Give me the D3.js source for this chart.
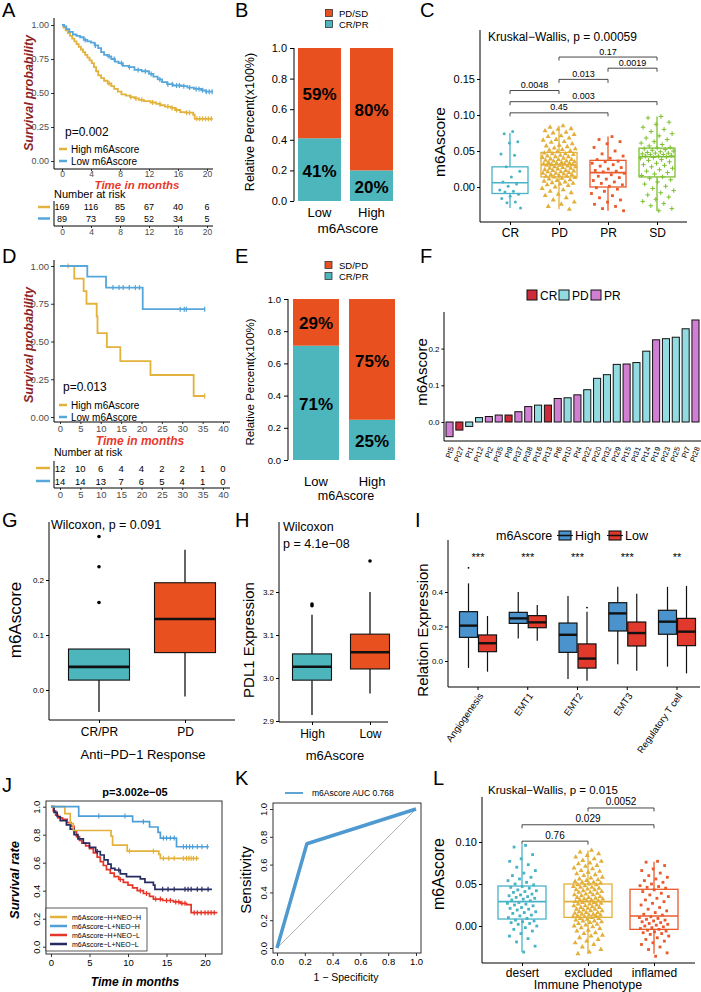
<!DOCTYPE html>
<html><head><meta charset="utf-8">
<script src="https://cdn.jsdelivr.net/npm/d3@7"></script>
<style>body{margin:0;background:#fff}svg{display:block}</style>
</head><body><svg id="c" width="701" height="992"></svg>
<script>
// ================= DATA =================
// Panel A (KM, all patients)
const aHigh = [[0,1],[0.2,0.98],[0.5,0.96],[0.8,0.94],[1.1,0.92],[1.4,0.9],[1.7,0.88],[2.0,0.86],[2.3,0.84],[2.6,0.82],[2.9,0.8],[3.2,0.78],[3.5,0.76],[3.8,0.74],[4.1,0.72],[4.4,0.69],[4.7,0.66],[5.0,0.63],[5.4,0.61],[5.8,0.59],[6.3,0.57],[6.8,0.55],[7.2,0.53],[7.7,0.51],[8.2,0.49],[8.8,0.48],[9.4,0.47],[10,0.46],[10.6,0.45],[11.3,0.44],[12.2,0.43],[13.0,0.42],[13.6,0.41],[14.2,0.4],[15,0.39],[15.6,0.375],[16.3,0.36],[17.0,0.355],[18.1,0.34],[18.3,0.31]];
const aLow = [[0,1],[0.3,0.99],[0.6,0.97],[1.0,0.95],[1.5,0.93],[2.0,0.92],[2.5,0.91],[3.0,0.89],[3.5,0.88],[4.0,0.87],[4.5,0.85],[5.0,0.83],[5.4,0.8],[5.8,0.78],[6.3,0.77],[6.8,0.75],[7.3,0.73],[7.8,0.72],[8.4,0.7],[9.2,0.69],[10,0.67],[11,0.66],[12,0.64],[12.6,0.62],[13.2,0.6],[13.8,0.58],[14.5,0.565],[15.3,0.555],[16.5,0.55],[17.3,0.54],[18.2,0.53],[19.2,0.52],[19.8,0.51]];
const aHighCens = [6.5,9.5,10.2,11,12.5,13.5,14.6,15.2,15.8,17.2,17.6,18.6,19.0,19.4,19.8,20.2,20.6];
const aLowCens = [3.2,4.6,6.5,7.2,8.2,9.3,10.5,11.5,12.3,13.5,14.6,15.2,15.8,16.2,16.8,17.6,18.5,18.9,19.4,19.9,20.3,20.7];
const aRiskTimes = [0,4,8,12,16,20];
const aRiskHigh = [169,116,85,67,40,6];
const aRiskLow = [89,73,59,52,34,5];
// Panel D (KM, anti-PD-1 cohort)
const dHigh = [[0,1],[3.5,0.917],[5.8,0.833],[6.5,0.75],[9.0,0.667],[9.2,0.556],[11.5,0.463],[14.8,0.37],[22.2,0.278],[32.8,0.139]];
const dLow = [[0,1],[6.7,0.929],[11.3,0.857],[20.3,0.714]];
const dHighCens = [2.0,35.5];
const dLowCens = [13.0,14.5,15.5,17.0,18.5,19.5,29.5,30.5,31.0,35.5];
const dRiskTimes = [0,5,10,15,20,25,30,35,40];
const dRiskHigh = [12,10,6,4,4,2,2,1,0];
const dRiskLow = [14,14,13,7,6,5,4,1,0];
// Panel B / E (stacked response proportions)
const bGroups = ['Low','High'];
const bCRPR = [0.41,0.20];
const bPDSD = [0.59,0.80];
const eCRPR = [0.71,0.25];
const eSDPD = [0.29,0.75];
// Panel C (m6Ascore by response)
const cCats = ['CR','PD','PR','SD'];
const cLo = [-0.029,-0.031,-0.033,-0.033];
const cQ1 = [-0.009,0.014,0.000,0.014];
const cMed = [0.006,0.031,0.020,0.042];
const cQ3 = [0.028,0.048,0.037,0.054];
const cHi = [0.075,0.085,0.070,0.098];
const cPtsCR = [0.077,0.074,0.063,0.061,0.046,0.044,0.028,0.022,0.014,0.007,0.004,0.001,-0.004,-0.006,-0.007,-0.010,-0.013,-0.016,-0.021,-0.022,-0.029];
const cPtsPD = [0.085,0.083,0.081,0.080,0.078,0.076,0.075,0.073,0.071,0.070,0.068,0.066,0.065,0.063,0.062,0.060,0.058,0.057,0.056,0.054,0.053,0.052,0.051,0.050,0.049,
 0.047,0.046,0.046,0.045,0.044,0.043,0.042,0.042,0.041,0.040,0.039,0.038,0.038,0.037,0.036,0.036,0.035,0.034,0.034,0.033,0.033,0.032,0.032,0.031,0.031,
 0.030,0.030,0.029,0.028,0.028,0.027,0.026,0.026,0.025,0.024,0.023,0.023,0.022,0.021,0.021,0.020,0.019,0.019,0.018,0.017,0.017,0.016,0.015,0.015,0.014,
 0.013,0.012,0.011,0.010,0.009,0.008,0.007,0.006,0.005,0.004,0.003,0.002,0.000,-0.002,-0.004,-0.006,-0.008,-0.010,-0.012,-0.015,-0.018,-0.021,-0.024,-0.027,-0.031];
const cPtsPR = [0.070,0.066,0.063,0.060,0.055,0.050,0.046,0.043,0.040,0.038,0.036,0.035,0.033,0.031,0.029,0.027,0.025,0.023,0.022,0.021,0.019,0.017,0.015,0.013,0.011,0.009,0.007,0.005,0.003,0.001,-0.001,-0.003,-0.006,-0.009,-0.012,-0.015,-0.018,-0.021,-0.024,-0.027,-0.030,-0.033];
const cPtsSD = [0.098,0.096,0.090,0.087,0.083,0.080,0.077,0.074,0.071,0.068,0.066,0.063,0.061,0.059,0.057,0.055,
 0.054,0.053,0.052,0.051,0.050,0.049,0.048,0.047,0.047,0.046,0.045,0.045,0.044,0.043,0.043,0.042,
 0.041,0.040,0.038,0.037,0.035,0.033,0.031,0.030,0.028,0.026,0.024,0.022,0.020,0.018,0.016,0.014,
 0.012,0.010,0.007,0.004,0.001,-0.002,-0.005,-0.008,-0.011,-0.014,-0.017,-0.020,-0.023,-0.026,-0.030,-0.033];
const cComps = [['PD','SD','0.17'],['PR','SD','0.0019'],['PD','PR','0.013'],['CR','PD','0.0048'],['CR','SD','0.003'],['CR','PR','0.45']];
// Panel F (per-patient m6Ascore)
const fPatients = ['Pt5','Pt27','Pt1','Pt12','Pt2','Pt35','Pt9','Pt37','Pt38','Pt16','Pt13','Pt6','Pt10','Pt4','Pt22','Pt20','Pt32','Pt29','Pt15','Pt31','Pt14','Pt19','Pt23','Pt25','Pt7','Pt28'];
const fResp = ['PR','CR','PD','PD','PR','PR','CR','PR','PR','PD','CR','PR','PD','PR','PD','PD','PD','PD','PR','PD','PD','PR','PD','PD','PD','PR'];
const fScore = [-0.040,-0.022,-0.012,0.012,0.015,0.019,0.019,0.028,0.042,0.046,0.046,0.064,0.066,0.074,0.088,0.119,0.129,0.157,0.158,0.162,0.193,0.224,0.227,0.231,0.254,0.278];
// Panel G
const gCats = ['CR/PR','PD'];
const gStats = [[-0.040,0.018,0.042,0.0745,0.0745],[-0.012,0.068,0.129,0.195,0.255]];
const gOutliers = [[0.159,0.224,0.279],[]];
// Panel H
const hCats = ['High','Low'];
const hStats = [[2.914,2.995,3.026,3.056,3.147],[2.964,3.021,3.060,3.102,3.200]];
const hOutliers = [[3.168,3.172],[3.272]];
// Panel I
const iGroups = ['Angiogenesis','EMT1','EMT2','EMT3','Regulatory T cell'];
const iHighStats = [[-0.040,0.137,0.205,0.286,0.45],[0.131,0.218,0.247,0.282,0.40],[-0.104,0.050,0.152,0.220,0.377],[-0.019,0.174,0.276,0.338,0.43],[-0.033,0.155,0.228,0.294,0.43]];
const iLowStats = [[-0.062,0.054,0.103,0.151,0.261],[0.118,0.193,0.224,0.263,0.325],[-0.114,-0.041,0.014,0.099,0.286],[-0.056,0.087,0.162,0.226,0.39],[-0.072,0.089,0.170,0.247,0.435]];
const iHighOut = [[0.54],[],[],[],[]];
const iLowOut = [[],[],[0.31],[],[]];
const iStars = ['***','***','***','***','**'];
// Panel J
const jLegend = ['m6Ascore\u2212H+NEO\u2212H','m6Ascore\u2212L+NEO\u2212H','m6Ascore\u2212H+NEO\u2212L','m6Ascore\u2212L+NEO\u2212L'];
const jHH = [[0,1],[1.8,0.95],[2.5,0.88],[2.9,0.83],[7.8,0.79],[8.0,0.726],[9.9,0.683],[14.0,0.66],[14.2,0.631]];
const jLH = [[0,1],[3.6,0.933],[10.6,0.893],[12.8,0.855],[13.9,0.817],[14.2,0.776],[16.3,0.714]];
const jHL = [[0,1],[0.3,0.97],[0.6,0.94],[0.9,0.92],[1.5,0.91],[2.1,0.886],[2.6,0.86],[3.0,0.82],[3.3,0.786],[3.7,0.76],[4.0,0.74],[4.5,0.72],[5.0,0.7],[5.5,0.67],[6.0,0.64],[6.4,0.607],[6.8,0.58],[7.2,0.55],[7.7,0.526],[8.2,0.5],[8.8,0.48],[9.4,0.46],[10.0,0.44],[10.6,0.42],[11.2,0.4],[12.0,0.38],[12.8,0.36],[13.3,0.34],[14.5,0.33],[15.9,0.32],[16.8,0.31],[17.6,0.3],[18.2,0.243]];
const jLL = [[0,1],[0.4,0.96],[0.8,0.93],[1.2,0.9],[2.0,0.87],[2.5,0.84],[3.0,0.8],[3.5,0.77],[4.2,0.74],[5.0,0.71],[5.8,0.68],[6.4,0.655],[6.9,0.62],[7.4,0.59],[7.8,0.56],[8.3,0.548],[9.0,0.52],[9.8,0.5],[11.6,0.485],[12.2,0.46],[13.3,0.44],[13.5,0.41]];
const jEnds = [19.2,20.5,21.6,20.9];
const jHHCens = [10.2,13.3,14.6,15.3,16.0,17.2,17.6,17.9,18.2,18.5,18.9];
const jLHCens = [6.2,9.6,12.0,14.6,15.0,15.5,16.0,17.2,17.6,18.0,18.4,19.0,19.6,20.3];
const jHLCens = [9.0,11.6,12.4,13.6,14.2,15.0,15.5,16.2,16.6,17.0,17.4,18.6,19.0,19.5,20.0,20.4,20.8,21.2];
const jLLCens = [6.0,8.8,14.5,15.2,16.0,17.4,17.8,18.2,19.0,19.6,20.4];
// Panel K (ROC)
const kFPR = [0,0.215,1];
const kTPR = [0,0.75,1];
// Panel L
const lCats = ['desert','excluded','inflamed'];
const lStats = [[-0.031,0.0083,0.029,0.0476,0.096],[-0.033,0.0103,0.029,0.050,0.090],[-0.033,-0.004,0.0119,0.0437,0.0765]];
const lPtsDesert = [0.096,0.094,0.085,0.080,0.077,0.073,0.070,0.066,0.063,0.060,0.058,0.056,0.054,0.052,0.050,0.049,
 0.047,0.046,0.045,0.043,0.042,0.041,0.040,0.038,0.037,0.036,0.035,0.034,0.033,0.032,0.031,0.030,
 0.028,0.027,0.026,0.025,0.024,0.022,0.021,0.020,0.019,0.017,0.016,0.015,0.013,0.012,0.010,0.009,
 0.007,0.006,0.005,0.004,0.003,0.002,0.000,-0.002,-0.004,-0.006,-0.009,-0.012,-0.015,-0.019,-0.024,-0.031];
const lPtsExcluded = [0.090,0.088,0.086,0.084,0.082,0.080,0.078,0.077,0.075,0.074,0.072,0.071,0.069,0.068,0.066,0.065,0.064,0.062,0.061,0.060,0.058,0.057,0.056,0.055,0.054,0.053,0.052,0.052,0.051,0.050,
 0.049,0.049,0.048,0.047,0.046,0.046,0.045,0.044,0.043,0.043,0.042,0.041,0.040,0.040,0.039,0.038,0.037,0.037,0.036,0.035,0.034,0.034,0.033,0.032,0.032,0.031,0.031,0.030,0.030,0.029,
 0.028,0.028,0.027,0.026,0.026,0.025,0.024,0.024,0.023,0.022,0.022,0.021,0.020,0.020,0.019,0.018,0.018,0.017,0.016,0.016,0.015,0.014,0.014,0.013,0.013,0.012,0.012,0.011,0.011,0.010,
 0.009,0.009,0.008,0.007,0.006,0.006,0.005,0.004,0.003,0.002,0.001,0.000,-0.001,-0.002,-0.003,-0.005,-0.006,-0.008,-0.009,-0.011,-0.012,-0.014,-0.016,-0.018,-0.020,-0.022,-0.025,-0.028,-0.031,-0.033];
const lPtsInflamed = [0.077,0.076,0.072,0.068,0.066,0.063,0.060,0.058,0.056,0.054,0.052,0.050,0.048,0.047,0.046,0.045,
 0.043,0.041,0.039,0.037,0.035,0.033,0.031,0.029,0.027,0.025,0.022,0.020,0.018,0.016,0.014,0.013,
 0.011,0.010,0.009,0.008,0.007,0.006,0.005,0.004,0.003,0.002,0.001,0.000,-0.001,-0.002,-0.003,-0.004,
 -0.005,-0.006,-0.007,-0.008,-0.009,-0.010,-0.012,-0.014,-0.016,-0.018,-0.020,-0.022,-0.025,-0.028,-0.032,-0.036];
const lComps = [['excluded','inflamed','0.0052'],['desert','inflamed','0.029'],['desert','excluded','0.76']];

// ================= STYLE =================
const F = "'Liberation Sans', Arial, Helvetica, sans-serif";
const GOLD = '#E3B23C', SKY = '#56A7DA', TEAL = '#4DB5BC', ORANGE = '#E8501F';
const C_TEAL = '#49B3C6', C_GOLD = '#E2B03A', C_RED = '#EA5A2C', C_GREEN = '#7DC02F';
const F_COL = {CR:'#CC2B3B', PD:'#92DCE1', PR:'#D07FD3'};
const I_HIGH = '#4A93CC', I_LOW = '#E13A2C';
const J_COL = ['#E3B23C','#4E9FD8','#E53428','#262B62'];

const svg = d3.select('#c');
svg.append('rect').attr('width',701).attr('height',992).attr('fill','#fff');

function T(x, y, s, o = {}) {
  const t = svg.append('text').attr('x', x).attr('y', y).text(s)
    .attr('font-family', F).attr('font-size', o.size || 11)
    .attr('fill', o.fill || '#000').attr('text-anchor', o.anchor || 'start');
  if (o.weight) t.attr('font-weight', o.weight);
  if (o.style) t.attr('font-style', o.style);
  if (o.dy) t.attr('dy', o.dy);
  if (o.rot !== undefined) t.attr('transform', `rotate(${o.rot},${x},${y})`);
  return t;
}
function L(x1, y1, x2, y2, c = '#000', w = 1) {
  return svg.append('line').attr('x1', x1).attr('y1', y1).attr('x2', x2).attr('y2', y2).attr('stroke', c).attr('stroke-width', w);
}
function R(x, y, w, h, fill, stroke, sw = 1) {
  return svg.append('rect').attr('x', x).attr('y', y).attr('width', w).attr('height', h)
    .attr('fill', fill).attr('stroke', stroke || 'none').attr('stroke-width', sw);
}
function axL(scale, x, ticks, fmt, fs, o = {}) {
  const g = svg.append('g').attr('transform', `translate(${x},0)`)
    .call(d3.axisLeft(scale).tickValues(ticks).tickFormat(fmt).tickSize(o.ts ?? 3).tickPadding(o.pad ?? 2));
  g.select('.domain').remove();
  g.attr('font-family', F).attr('font-size', fs);
  g.selectAll('.tick line').attr('stroke', o.tc || '#000');
  g.selectAll('.tick text').attr('fill', o.color || '#000');
  if (o.line) L(x, o.line[0], x, o.line[1], o.lc || '#000', o.lw || 1);
  if (o.rot) {
    g.selectAll('.tick text').attr('transform', 'rotate(-90)').attr('x', 0)
      .attr('y', -((o.ts ?? 3) + (o.pad ?? 2))).attr('dy', 0).attr('text-anchor', 'middle');
  }
  return g;
}
function axB(scale, y, ticks, fmt, fs, o = {}) {
  const ax = d3.axisBottom(scale).tickSize(o.ts ?? 3).tickPadding(o.pad ?? 2);
  if (ticks) ax.tickValues(ticks);
  if (fmt) ax.tickFormat(fmt);
  const g = svg.append('g').attr('transform', `translate(0,${y})`).call(ax);
  g.select('.domain').remove();
  g.attr('font-family', F).attr('font-size', fs);
  g.selectAll('.tick line').attr('stroke', o.tc || '#000');
  g.selectAll('.tick text').attr('fill', o.color || '#000');
  if (o.line) L(o.line[0], y, o.line[1], y, o.lc || '#000', o.lw || 1);
  return g;
}
function km(xs, ys, pts, end, color, w, cens, ch = 2.5) {
  const data = pts.concat([[end, pts[pts.length - 1][1]]]);
  svg.append('path').datum(data)
    .attr('d', d3.line().x(d => xs(d[0])).y(d => ys(d[1])).curve(d3.curveStepAfter))
    .attr('fill', 'none').attr('stroke', color).attr('stroke-width', w);
  const S = t => { let s = 1; for (const p of pts) if (p[0] <= t) s = p[1]; return s; };
  (cens || []).forEach(t => { const X = xs(t), Y = ys(S(t)); L(X, Y - ch, X, Y + ch, color, Math.max(0.8, w * 0.7)); });
}
function box(cx, w, st, ys, o) {
  const [lo, q1, med, q3, hi] = st;
  const sc = o.stroke, sw = o.sw || 1;
  L(cx, ys(hi), cx, ys(q3), o.wc || sc, o.ww || sw);
  L(cx, ys(q1), cx, ys(lo), o.wc || sc, o.ww || sw);
  R(cx - w / 2, ys(q3), w, ys(q1) - ys(q3), o.fill || 'none', sc, sw);
  L(cx - w / 2, ys(med), cx + w / 2, ys(med), o.mc || sc, o.mw || sw * 2);
}
const jit = (i, J) => ((((i + 1) * 0.6180339887) % 1) - 0.5) * 2 * J;
function pts(vals, cx, ys, shape, color, J) {
  vals.forEach((v, i) => {
    const X = cx + jit(i, J), Y = ys(v);
    if (shape === 'circle') svg.append('circle').attr('cx', X).attr('cy', Y).attr('r', 1.5).attr('fill', color);
    else if (shape === 'plus') { L(X - 2.3, Y, X + 2.3, Y, color, 1); L(X, Y - 2.3, X, Y + 2.3, color, 1); }
    else {
      const sym = shape === 'tri' ? d3.symbolTriangle : d3.symbolSquare;
      svg.append('path').attr('d', d3.symbol().type(sym).size(shape === 'tri' ? 11 : 8)())
        .attr('transform', `translate(${X},${Y})`).attr('fill', color);
    }
  });
}
function bracket(x1, x2, y, label, fs) {
  svg.append('path').attr('d', `M${x1},${y + 3.5}V${y}H${x2}V${y + 3.5}`).attr('fill', 'none').attr('stroke', '#333').attr('stroke-width', 0.9);
  T((x1 + x2) / 2, y - 2.5, label, {size: fs, anchor: 'middle'});
}

// Panel letters
[['A',2,17],['B',235,17],['C',420,17],['D',2,263],['E',235,263],['F',420,263],['G',2,527],['H',235,527],['I',415,527],['J',2,792],['K',235,785],['L',433,785]]
  .forEach(([s,x,y]) => T(x, y, s, {size: 20}));

// ================= PANEL A =================
{
  const xs = d3.scaleLinear().domain([0,20]).range([62,207]);
  const ys = d3.scaleLinear().domain([0,1]).range([161,25]);
  axL(ys, 54, [0,.25,.5,.75,1], d3.format('.2f'), 9, {color:'#4d4d4d', tc:'#333', line:[18,169]});
  axB(xs, 169, [0,4,8,12,16,20], d3.format('d'), 8.5, {color:'#4d4d4d', tc:'#333', ts:2, pad:0, line:[54,213]});
  km(xs, ys, aHigh, 20.8, GOLD, 1.8, aHighCens);
  km(xs, ys, aLow, 20.8, SKY, 1.8, aLowCens);
  T(29, 93, 'Survival probability', {size:12.5, weight:'bold', style:'italic', fill:'#8B2525', anchor:'middle', rot:-90, dy:'0.35em'});
  T(137, 188.5, 'Time in months', {size:11.5, weight:'bold', style:'italic', fill:'#E8392B', anchor:'middle'});
  T(65, 136, 'p=0.002', {size:12});
  L(59,149,67,149,GOLD,2.5); T(71,152.5,'High m6Ascore',{size:10});
  L(59,161,67,161,SKY,2.5); T(71,164.5,'Low m6Ascore',{size:10});
  T(54, 198, 'Number at risk', {size:11});
  aRiskTimes.forEach((t,i) => { T(xs(t), 210, aRiskHigh[i], {size:9, anchor:'middle'}); T(xs(t), 222, aRiskLow[i], {size:9, anchor:'middle'}); });
  L(38,207,50,207,GOLD,2.5); L(38,218.5,50,218.5,SKY,2.5);
  L(54,201,54,226);
  axB(xs, 226, aRiskTimes, d3.format('d'), 8.5, {color:'#4d4d4d', tc:'#333', ts:2, pad:1, line:[54,213]});
}

// ================= PANEL D =================
{
  const xs = d3.scaleLinear().domain([0,40]).range([60,223]);
  const ys = d3.scaleLinear().domain([0,1]).range([417,266]);
  axL(ys, 54, [0,.25,.5,.75,1], d3.format('.2f'), 9.5, {color:'#4d4d4d', tc:'#333', line:[260,422]});
  axB(xs, 422, dRiskTimes, d3.format('d'), 9.5, {color:'#4d4d4d', tc:'#333', ts:2, pad:1, line:[54,230]});
  km(xs, ys, dHigh, 35.5, GOLD, 1.8, dHighCens);
  km(xs, ys, dLow, 35.5, SKY, 1.8, dLowCens);
  T(29, 345, 'Survival probability', {size:12.5, weight:'bold', style:'italic', fill:'#8B2525', anchor:'middle', rot:-90, dy:'0.35em'});
  T(140, 445, 'Time in months', {size:12, weight:'bold', style:'italic', fill:'#E8392B', anchor:'middle'});
  T(63, 391, 'p=0.013', {size:12});
  L(59,405,67,405,GOLD,2.5); T(71,408.5,'High m6Ascore',{size:10});
  L(59,417,67,417,SKY,2.5); T(71,420.5,'Low m6Ascore',{size:10});
  T(54, 456, 'Number at risk', {size:10.5});
  dRiskTimes.forEach((t,i) => { T(xs(t), 471.5, dRiskHigh[i], {size:9.5, anchor:'middle'}); T(xs(t), 484.5, dRiskLow[i], {size:9.5, anchor:'middle'}); });
  L(36,468,50,468,GOLD,2.5); L(36,481,50,481,SKY,2.5);
  L(54,461,54,488);
  axB(xs, 488, dRiskTimes, d3.format('d'), 9.5, {color:'#4d4d4d', tc:'#333', ts:2, pad:1, line:[54,230]});
}

// ================= PANEL B =================
{
  const ys = d3.scaleLinear().domain([0,1]).range([201,48]);
  const xs = d3.scaleBand().domain(bGroups).range([298,393]).paddingInner(0.173);
  axL(ys, 294, [0,.2,.4,.6,.8,1], d3.format('.1f'), 11, {ts:4, pad:3, line:[48,201]});
  bGroups.forEach((g,i) => {
    const x0 = xs(g), w = xs.bandwidth(), cx = x0 + w/2;
    R(x0, ys(bCRPR[i]), w, ys(0) - ys(bCRPR[i]), TEAL);
    R(x0, ys(1), w, ys(bCRPR[i]) - ys(1), ORANGE);
    T(cx, ys(bCRPR[i]/2), Math.round(bCRPR[i]*100)+'%', {size:17, weight:'bold', anchor:'middle', dy:'0.42em'});
    T(cx, ys(bCRPR[i] + bPDSD[i]/2), Math.round(bPDSD[i]*100)+'%', {size:17, weight:'bold', anchor:'middle', dy:'0.42em'});
    T(cx, 217, g, {size:13, anchor:'middle'});
  });
  T(348, 233, 'm6Ascore', {size:13.5, anchor:'middle'});
  T(250, 122, 'Relative Percent(x100%)', {size:12.5, anchor:'middle', rot:-90, dy:'0.35em'});
  R(325.5, 9.5, 7, 7, ORANGE, '#333', 0.8); T(339, 16.5, 'PD/SD', {size:9.5});
  R(325.5, 20.5, 7, 7, TEAL, '#333', 0.8); T(339, 27.5, 'CR/PR', {size:9.5});
}

// ================= PANEL E =================
{
  const ys = d3.scaleLinear().domain([0,1]).range([460,299]);
  const xs = d3.scaleBand().domain(bGroups).range([293,395]).paddingInner(0.179);
  axL(ys, 288, [0,.2,.4,.6,.8,1], d3.format('.1f'), 9.5, {ts:4, pad:3, line:[299,460]});
  bGroups.forEach((g,i) => {
    const x0 = xs(g), w = xs.bandwidth(), cx = x0 + w/2;
    R(x0, ys(eCRPR[i]), w, ys(0) - ys(eCRPR[i]), TEAL);
    R(x0, ys(1), w, ys(eCRPR[i]) - ys(1), ORANGE);
    T(cx, ys(eCRPR[i]/2), Math.round(eCRPR[i]*100)+'%', {size:17, weight:'bold', anchor:'middle', dy:'0.42em'});
    T(cx, ys(eCRPR[i] + eSDPD[i]/2), Math.round(eSDPD[i]*100)+'%', {size:17, weight:'bold', anchor:'middle', dy:'0.42em'});
    T(cx, 486, g, {size:13, anchor:'middle'});
  });
  T(346, 500, 'm6Ascore', {size:12.5, anchor:'middle'});
  T(250, 382, 'Relative Percent(x100%)', {size:11.5, anchor:'middle', rot:-90, dy:'0.35em'});
  R(325, 261.5, 7, 7, ORANGE, '#333', 0.8); T(339, 268.5, 'SD/PD', {size:9.5});
  R(325, 272.5, 7, 7, TEAL, '#333', 0.8); T(339, 279.5, 'CR/PR', {size:9.5});
}

// ================= PANEL C =================
{
  const xs = d3.scalePoint().domain(cCats).range([510,657]);
  const ys = d3.scaleLinear().domain([0,0.05]).range([187,151]);
  axL(ys, 480, [0,0.05,0.10,0.15], d3.format('.2f'), 11, {ts:3, pad:2, line:[30,222]});
  axB(xs, 222, null, null, 12, {ts:3, pad:3, line:[480,687]});
  const cols = [C_TEAL, C_GOLD, C_RED, C_GREEN];
  const shapes = ['circle','tri','sq','plus'];
  const pl = [cPtsCR, cPtsPD, cPtsPR, cPtsSD];
  cCats.forEach((c,i) => {
    box(xs(c), 36, [cLo[i],cQ1[i],cMed[i],cQ3[i],cHi[i]], ys, {stroke:cols[i], sw:1.3, mw:1.6, fill:'#fff'});
    pts(pl[i], xs(c), ys, shapes[i], cols[i], i === 0 ? 11 : 17);
  });
  T(440, 142, 'm6Ascore', {size:15.5, anchor:'middle', rot:-90, dy:'0.35em'});
  T(488, 41, 'Kruskal\u2212Wallis, p = 0.00059', {size:12});
  cComps.forEach((cmp, k) => {
    const yv = 0.103 + (cComps.length - 1 - k) * 0.0155;
    bracket(xs(cmp[0]), xs(cmp[1]), ys(yv), cmp[2], 9);
  });
}

// ================= PANEL F =================
{
  const xs = d3.scaleBand().domain(fPatients).range([445,700]).paddingInner(0.28).paddingOuter(0.1);
  const ys = d3.scaleLinear().domain([0,0.1]).range([422,385.3]);
  axL(ys, 444, [0,0.1,0.2], d3.format('.1f'), 8, {ts:2.5, pad:2, line:[312,441]});
  L(444, 441, 701, 441);
  fPatients.forEach((p,i) => {
    const v = fScore[i], y0 = ys(0), y1 = ys(v);
    R(xs(p), Math.min(y0,y1), xs.bandwidth(), Math.abs(y1 - y0), F_COL[fResp[i]], '#111', 1);
    const cx = xs(p) + xs.bandwidth()/2 + 2;
    T(cx, 447, p, {size:7.5, anchor:'end', rot:-70, dy:'0.35em'});
  });
  T(422, 372, 'm6Ascore', {size:15, anchor:'middle', rot:-90, dy:'0.35em'});
  [['CR',527],['PD',559],['PR',591]].forEach(([k,x]) => { R(x, 290, 10, 10, F_COL[k], '#111', 1); T(x+13, 299.5, k, {size:12}); });
}

// ================= PANEL G =================
{
  const xs = d3.scalePoint().domain(gCats).range([99,185]);
  const ys = d3.scaleLinear().domain([0,0.1]).range([690,635]);
  axL(ys, 49, [0,0.1,0.2], d3.format('.1f'), 8, {ts:3, pad:2, line:[522,720]});
  axB(xs, 720, null, null, 12, {ts:3, pad:4, line:[49,235]});
  const cols = [TEAL, ORANGE];
  gCats.forEach((c,i) => {
    box(xs(c), 61, gStats[i], ys, {stroke:'#111', sw:1.1, mw:2.6, fill:cols[i], wc:'#111', ww:1.3});
    gOutliers[i].forEach(v => svg.append('circle').attr('cx', xs(c)).attr('cy', ys(v)).attr('r', 1.8).attr('fill','#000'));
  });
  T(51, 529, 'Wilcoxon, p = 0.091', {size:12.5});
  T(15, 620, 'm6Ascore', {size:17, anchor:'middle', rot:-90, dy:'0.35em'});
  T(143, 759, 'Anti\u2212PD\u22121 Response', {size:13, anchor:'middle'});
}

// ================= PANEL H =================
{
  const xs = d3.scalePoint().domain(hCats).range([312,370]);
  const ys = d3.scaleLinear().domain([3.0,3.1]).range([678,635]);
  axL(ys, 279, [2.9,3.0,3.1,3.2], d3.format('.1f'), 8, {ts:3, pad:2, line:[522,722]});
  axB(xs, 722, null, null, 12, {ts:3, pad:4, line:[279,388]});
  const cols = [TEAL, ORANGE];
  hCats.forEach((c,i) => {
    box(xs(c), 39, hStats[i], ys, {stroke:'#111', sw:1.1, mw:2.6, fill:cols[i], wc:'#111', ww:1.3});
    hOutliers[i].forEach(v => svg.append('circle').attr('cx', xs(c)).attr('cy', ys(v)).attr('r', 1.8).attr('fill','#000'));
  });
  T(283, 531, 'Wilcoxon', {size:12.5});
  T(283, 548, 'p = 4.1e\u221208', {size:12.5});
  T(249, 640, 'PDL1 Expression', {size:15, anchor:'middle', rot:-90, dy:'0.35em'});
  T(335, 760, 'm6Ascore', {size:13, anchor:'middle'});
}

// ================= PANEL I =================
{
  const xs = d3.scalePoint().domain(iGroups).range([478,677]);
  const ys = d3.scaleLinear().domain([0,0.2]).range([661,626.5]);
  axL(ys, 448, [0,0.2,0.4], d3.format('.1f'), 8, {ts:3, pad:2, line:[540,687]});
  L(448, 687, 700, 687);
  iGroups.forEach((g,i) => {
    const cx = xs(g);
    box(cx - 9.5, 18, iHighStats[i], ys, {stroke:'#111', sw:1.2, mw:2.4, fill:I_HIGH, wc:'#111', ww:1.2});
    box(cx + 9.5, 18, iLowStats[i], ys, {stroke:'#111', sw:1.2, mw:2.4, fill:I_LOW, wc:'#111', ww:1.2});
    iHighOut[i].forEach(v => svg.append('circle').attr('cx', cx - 9.5).attr('cy', ys(v)).attr('r', 0.9).attr('fill','#000'));
    iLowOut[i].forEach(v => svg.append('circle').attr('cx', cx + 9.5).attr('cy', ys(v)).attr('r', 0.9).attr('fill','#000'));
    L(cx, 687, cx, 690);
    T(cx + 3, 694, g, {size:9.5, anchor:'end', rot:-55, dy:'0.35em'});
    T(cx, 561, iStars[i], {size:11, anchor:'middle'});
  });
  T(423, 630, 'Relation Expression', {size:15, anchor:'middle', rot:-90, dy:'0.35em'});
  T(496, 539.5, 'm6Ascore', {size:12.5});
  [[I_HIGH,'High',559],[I_LOW,'Low',609]].forEach(([c,s,x]) => {
    L(x-2, 535.5, x+14, 535.5, '#111', 1);
    R(x, 531, 12, 9, c, '#111', 1.1);
    L(x, 535.5, x+12, 535.5, '#111', 1.6);
    T(x+16, 539.5, s, {size:12.5});
  });
}

// ================= PANEL J =================
{
  const xs = d3.scaleLinear().domain([0,20]).range([51,205]);
  const ys = d3.scaleLinear().domain([0,1]).range([946.7,806.7]);
  R(46, 801, 176, 153, 'none', '#333', 1);
  axL(ys, 46, [0,0.2,0.4,0.6,0.8,1.0], d3.format('.1f'), 9.5, {ts:3, pad:3, rot:true, tc:'#333'});
  axB(xs, 954, [0,5,10,15,20], d3.format('d'), 9.5, {ts:3, pad:2, tc:'#333'});
  km(xs, ys, jHL, jEnds[2], J_COL[2], 1.7, jHLCens, 2.5);
  km(xs, ys, jLL, jEnds[3], J_COL[3], 1.7, jLLCens, 2.5);
  km(xs, ys, jHH, jEnds[0], J_COL[0], 1.7, jHHCens, 2.5);
  km(xs, ys, jLH, jEnds[1], J_COL[1], 1.7, jLHCens, 2.5);
  R(46, 908, 101, 43, '#fff', '#333', 0.8);
  jLegend.forEach((s,i) => { const y = 917 + i*9; L(50, y, 67, y, J_COL[i], 2.5); T(72, y + 2.5, s, {size:7}); });
  T(135, 796, 'p=3.002e\u221205', {size:11, weight:'bold', anchor:'middle'});
  T(14, 880, 'Survival rate', {size:13, weight:'bold', style:'italic', anchor:'middle', rot:-90, dy:'0.35em'});
  T(135, 986, 'Time in months', {size:12, weight:'bold', style:'italic', anchor:'middle'});
}

// ================= PANEL K =================
{
  const xs = d3.scaleLinear().domain([0,1]).range([277,416]);
  const ys = d3.scaleLinear().domain([0,1]).range([948,809]);
  R(273, 803, 148, 150, 'none', '#333', 1);
  axL(ys, 273, [0,0.2,0.4,0.6,0.8,1.0], d3.format('.1f'), 9.5, {ts:3, pad:3, rot:true, tc:'#333'});
  axB(xs, 953, [0,0.2,0.4,0.6,0.8,1.0], d3.format('.1f'), 9.5, {ts:3, pad:2, tc:'#333'});
  L(xs(0), ys(0), xs(1), ys(1), '#aaa', 0.9);
  svg.append('path').datum(kFPR.map((f,i) => [f, kTPR[i]]))
    .attr('d', d3.line().x(d => xs(d[0])).y(d => ys(d[1])))
    .attr('fill','none').attr('stroke','#4E9AD0').attr('stroke-width',3.5).attr('stroke-linejoin','round');
  T(246, 880, 'Sensitivity', {size:15, anchor:'middle', rot:-90, dy:'0.35em'});
  T(346, 981, '1 \u2212 Specificity', {size:10.5, anchor:'middle'});
  L(285, 793, 303, 793, '#4E9AD0', 1.8);
  T(312, 796, 'm6Ascore AUC 0.768', {size:8.5});
}

// ================= PANEL L =================
{
  const xs = d3.scalePoint().domain(lCats).range([522,654]);
  const ys = d3.scaleLinear().domain([0,0.05]).range([926,884]);
  axL(ys, 482, [0,0.05,0.10], d3.format('.2f'), 11, {ts:3, pad:2, line:[797,963]});
  axB(xs, 963, null, null, 12, {ts:3, pad:2, line:[482,695]});
  const cols = [C_TEAL, C_GOLD, C_RED];
  const shapes = ['sq','tri','sq'];
  const pl = [lPtsDesert, lPtsExcluded, lPtsInflamed];
  lCats.forEach((c,i) => {
    box(xs(c), 48, lStats[i], ys, {stroke:cols[i], sw:1.3, mw:1.6, fill:'#fff'});
    pts(pl[i], xs(c), ys, shapes[i], cols[i], 15);
  });
  T(438, 874, 'm6Ascore', {size:16, anchor:'middle', rot:-90, dy:'0.35em'});
  T(588, 989, 'Immune Phenotype', {size:12.5, anchor:'middle'});
  T(488, 794, 'Kruskal\u2212Wallis, p = 0.015', {size:11.5});
  const lv = [0.1405, 0.1205, 0.101];
  lComps.forEach((cmp,k) => bracket(xs(cmp[0]), xs(cmp[1]), ys(lv[k]), cmp[2], 10));
}
</script></body></html>
